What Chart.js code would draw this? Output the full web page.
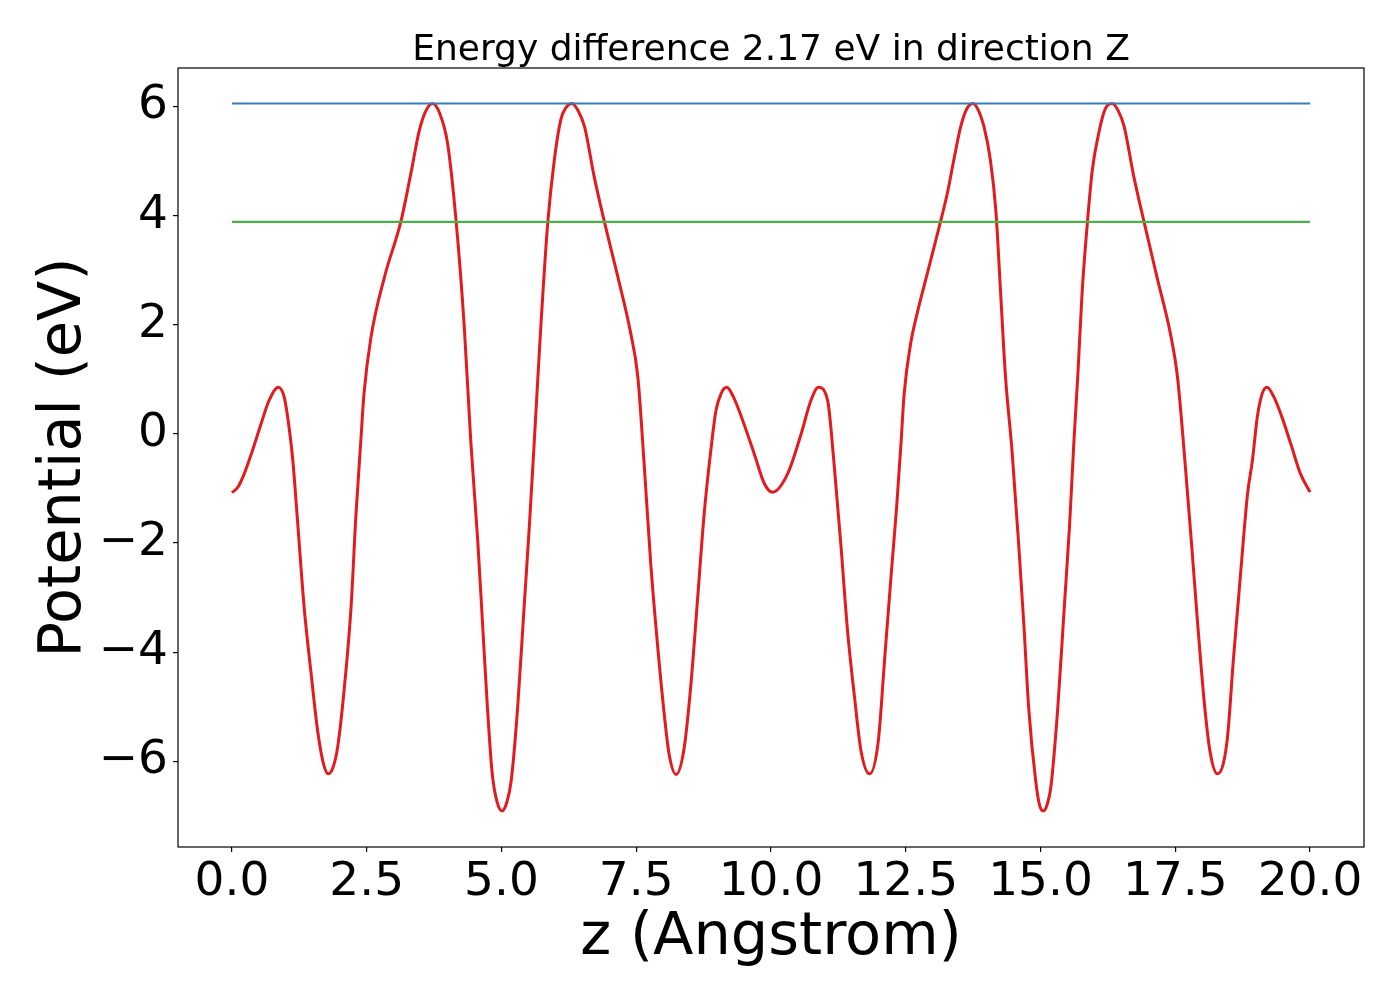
<!DOCTYPE html>
<html><head><meta charset="utf-8">
<script src="https://cdn.jsdelivr.net/npm/chart.js@4.4.1/dist/chart.umd.min.js"></script>
<style>html,body{margin:0;padding:0;background:#fff}canvas{display:block}</style>
</head><body>
<canvas id="c" width="1400" height="1000" style="width:1400px;height:1000px"></canvas>
<script>
const titleText = 'Energy difference 2.17 eV in direction Z';
const xLabel = 'z (Angstrom)';
const yLabel = 'Potential (eV)';
const xTicks = [0, 2.5, 5, 7.5, 10, 12.5, 15, 17.5, 20];
const yTicks = [-6, -4, -2, 0, 2, 4, 6];

const zPos = [0.00,0.11,0.23,0.38,0.54,0.69,0.86,0.97,1.06,1.13,
1.21,1.34,1.47,1.59,1.70,1.79,1.88,1.96,2.08,2.21,
2.30,2.39,2.45,2.58,2.83,3.14,3.32,3.48,3.60,3.72,
3.85,4.00,4.16,4.31,4.43,4.56,4.65,4.74,4.83,4.92,
5.01,5.10,5.18,5.30,5.42,5.52,5.61,5.73,5.86,5.98,
6.10,6.20,6.31,6.42,6.54,6.72,6.91,7.16,7.40,7.53,
7.65,7.77,7.90,8.02,8.11,8.24,8.39,8.52,8.64,8.76,
8.89,8.98,9.08,9.18,9.30,9.44,9.69,9.88,10.03,10.31,
10.56,10.74,10.88,11.05,11.17,11.30,11.42,11.55,11.67,11.83,
11.99,12.11,12.23,12.33,12.41,12.47,12.59,12.71,12.90,13.12,
13.27,13.39,13.52,13.63,13.75,13.85,13.95,14.07,14.17,14.26,
14.35,14.47,14.59,14.69,14.78,14.91,14.98,15.05,15.12,15.19,
15.32,15.44,15.54,15.62,15.69,15.77,15.87,15.96,16.08,16.20,
16.33,16.44,16.55,16.73,16.92,17.16,17.41,17.54,17.67,17.80,
17.92,18.04,18.14,18.28,18.46,18.58,18.71,18.84,18.93,19.02,
19.11,19.20,19.33,19.48,19.64,19.82,20.00];

const potential = [-1.08,-0.98,-0.73,-0.31,0.18,0.61,0.85,0.67,0.12,-0.49,
-1.50,-3.18,-4.40,-5.44,-6.05,-6.23,-6.10,-5.75,-4.71,-3.18,
-1.50,-0.15,0.73,1.77,2.87,3.91,4.77,5.57,5.92,6.05,
5.88,5.32,3.88,1.96,-0.12,-1.96,-3.49,-5.02,-6.24,-6.75,
-6.91,-6.75,-6.36,-5.02,-3.18,-1.65,-0.12,1.96,3.88,5.01,
5.75,5.98,6.05,5.92,5.63,4.71,3.88,2.87,1.83,1.04,
-0.60,-2.39,-3.92,-5.14,-5.87,-6.24,-5.75,-4.53,-3.00,-1.47,
-0.25,0.43,0.75,0.85,0.68,0.34,-0.37,-0.92,-1.07,-0.73,
0.00,0.61,0.85,0.61,-0.55,-2.08,-3.61,-4.83,-5.81,-6.23,
-5.63,-4.10,-2.57,-1.35,-0.20,0.73,1.65,2.20,2.94,3.79,
4.40,5.01,5.63,5.95,6.05,5.92,5.63,5.01,4.10,2.57,
1.04,-0.30,-1.96,-3.49,-5.02,-6.36,-6.80,-6.91,-6.80,-6.48,
-5.02,-3.18,-1.65,-0.12,1.04,2.57,3.88,4.83,5.51,5.95,
6.05,5.92,5.63,4.71,3.88,2.87,1.83,1.04,-0.40,-2.00,
-3.55,-4.95,-5.80,-6.23,-5.63,-4.10,-2.57,-1.10,-0.49,0.30,
0.73,0.85,0.67,0.30,-0.18,-0.73,-1.07];

const maxLineZ = [0, 20.0];
const maxLineV = [6.05, 6.05];
const refLineZ = [0, 20.0];
const refLineV = [3.88, 3.88];

const FONT = "'DejaVu Sans', 'Liberation Sans', sans-serif";
const toXY = (xs, ys) => xs.map((x, i) => ({x: x, y: ys[i]}));

const framePlugin = {
  id: 'frame',
  afterDraw(chart) {
    const {ctx, chartArea: a} = chart;
    ctx.save();
    ctx.strokeStyle = '#000';
    ctx.lineWidth = 1.2;
    ctx.strokeRect(a.left, a.top, a.right - a.left, a.bottom - a.top);
    ctx.restore();
  }
};

new Chart(document.getElementById('c'), {
  type: 'line',
  data: {
    datasets: [
      {data: toXY(zPos, potential), borderColor: '#e41a1c', borderWidth: 3,
       pointRadius: 0, fill: false, cubicInterpolationMode: 'monotone', order: 2},
      {data: toXY(maxLineZ, maxLineV), borderColor: '#377eb8', borderWidth: 2.2,
       pointRadius: 0, fill: false, order: 1},
      {data: toXY(refLineZ, refLineV), borderColor: '#4daf4a', borderWidth: 2.2,
       pointRadius: 0, fill: false, order: 1}
    ]
  },
  options: {
    responsive: false,
    animation: false,
    devicePixelRatio: 1,
    layout: {padding: {left: 0, right: 36, top: 0, bottom: 0}},
    plugins: {
      legend: {display: false},
      tooltip: {enabled: false},
      title: {display: true, fullSize: false, text: titleText, color: '#000',
        font: {family: FONT, size: 36, weight: 'normal', lineHeight: 0.9},
        padding: {top: 34.5, bottom: 1.1}}
    },
    scales: {
      x: {
        type: 'linear', min: -1.0, max: 21.0,
        afterBuildTicks: s => { s.ticks = xTicks.map(v => ({value: v})); },
        afterFit: s => { s.height = 153; },
        border: {display: false},
        grid: {display: true, drawOnChartArea: false, drawTicks: true, tickLength: 5, color: '#000', lineWidth: 1.2},
        ticks: {color: '#000', padding: 7, maxRotation: 0, autoSkip: false,
          font: {family: FONT, size: 47, lineHeight: 1},
          callback: v => Number(v).toFixed(1)},
        title: {display: true, text: xLabel, color: '#000',
          font: {family: FONT, size: 59, lineHeight: 1}, padding: {top: 0, bottom: 32}}
      },
      y: {
        type: 'linear', min: -7.57, max: 6.70,
        afterBuildTicks: s => { s.ticks = yTicks.map(v => ({value: v})); },
        afterFit: s => { s.width = 178; },
        border: {display: false},
        grid: {display: true, drawOnChartArea: false, drawTicks: true, tickLength: 5, color: '#000', lineWidth: 1.2},
        ticks: {color: '#000', padding: 5, autoSkip: false,
          font: {family: FONT, size: 47, lineHeight: 1},
          callback: v => (v < 0 ? '\u2212' + Math.abs(v) : String(v))},
        title: {display: true, text: yLabel, color: '#000',
          font: {family: FONT, size: 59, lineHeight: 1}, padding: {top: 35, bottom: 0}}
      }
    }
  },
  plugins: [framePlugin]
});
</script>
</body></html>
